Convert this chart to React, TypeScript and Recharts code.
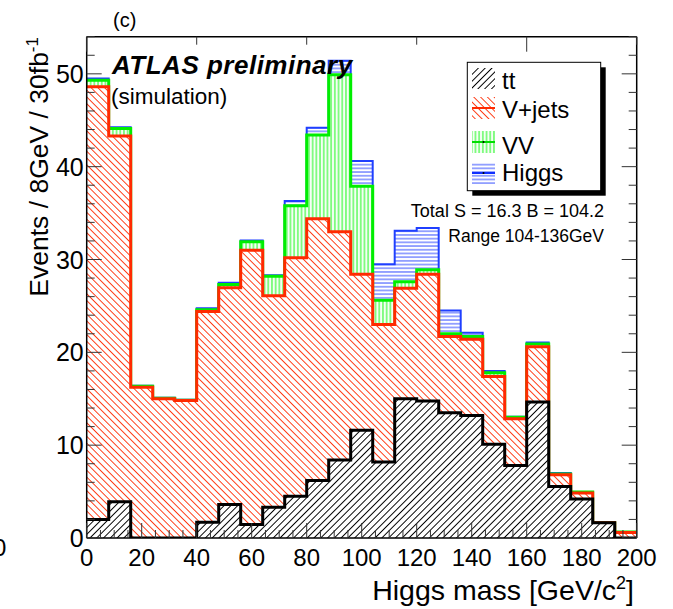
import React from 'react';
import { ComposedChart, Area, XAxis, YAxis } from 'recharts';

// ---- data (bins of 8 GeV, left edges) ----
const binEdges = [0, 8, 16, 24, 32, 40, 48, 56, 64, 72, 80, 88, 96, 104, 112, 120, 128, 136, 144, 152, 160, 168, 176, 184, 192];
const ttEvents = [2.0, 3.9, 0, 0, 0, 1.7, 3.6, 1.45, 3.3, 4.5, 6.2, 8.4, 11.6, 8.2, 15.0, 14.75, 13.5, 13.2, 10.1, 7.8, 14.65, 5.55, 4.2, 1.65, 0];
const vjetsEvents = [46.6, 39.4, 16.25, 15.0, 14.8, 22.7, 23.35, 29.55, 22.8, 25.7, 28.2, 24.6, 16.8, 14.8, 11.9, 13.65, 8.2, 8.2, 7.3, 5.05, 5.95, 1.25, 0.65, 0, 0.6];
const vvEvents = [0.7, 0.8, 0.1, 0.05, 0.05, 0.2, 0.35, 0.9, 2.1, 5.6, 9.0, 16.9, 9.5, 2.6, 0.7, 0.5, 0.3, 0.3, 0.4, 0.15, 0.3, 0.1, 0.1, 0, 0.05];
const higgsEvents = [0.2, 0.15, 0.05, 0.05, 0.05, 0.15, 0.2, 0.15, 0.1, 0.5, 0.8, 1.5, 2.7, 3.9, 5.5, 4.5, 2.5, 0.4, 0.2, 0.05, 0.15, 0.1, 0, 0, 0];
const xMax = 200;

const xTicks = [0, 5, 10, 15, 20, 25, 30, 35, 40, 45, 50, 55, 60, 65, 70, 75, 80, 85, 90, 95, 100, 105, 110, 115, 120, 125, 130, 135, 140, 145, 150, 155, 160, 165, 170, 175, 180, 185, 190, 195, 200];
const xMajorLabels = [0, 20, 40, 60, 80, 100, 120, 140, 160, 180, 200];
const yTicks = [0, 2, 4, 6, 8, 10, 12, 14, 16, 18, 20, 22, 24, 26, 28, 30, 32, 34, 36, 38, 40, 42, 44, 46, 48, 50, 52, 54];
const yMajorLabels = [0, 10, 20, 30, 40, 50];

const legendItems = ['tt', 'V+jets', 'VV', 'Higgs'];

// cumulative table for the stacked histogram
const rows = binEdges.map((x, i) => {
  const tt = ttEvents[i];
  const vj = tt + vjetsEvents[i];
  const vv = vj + vvEvents[i];
  const h = vv + higgsEvents[i];
  return { x, tt, vj, vv, h };
});
rows.push({ ...rows[rows.length - 1], x: xMax });

const FONT = '"Liberation Sans", Arial, Helvetica, sans-serif';
const TICK_COLOR = '#333';

const BottomTick = (props: any) => {
  const { x, y, payload } = props;
  const v = payload.value;
  const major = xMajorLabels.includes(v);
  return (
    <g>
      <line x1={x} y1={y} x2={x} y2={y - (major ? 15 : 8)} stroke={TICK_COLOR} strokeWidth={1} />
      {major && (
        <text x={x} y={y + 28} textAnchor="middle" fontSize={24} fontFamily={FONT} fill="#000">
          {v}
        </text>
      )}
    </g>
  );
};

const TopTick = (props: any) => {
  const { x, y, payload } = props;
  const major = xMajorLabels.includes(payload.value);
  return <line x1={x} y1={y} x2={x} y2={y + (major ? 15 : 8)} stroke={TICK_COLOR} strokeWidth={1} />;
};

const LeftTick = (props: any) => {
  const { x, y, payload } = props;
  const v = payload.value;
  const major = yMajorLabels.includes(v);
  return (
    <g>
      <line x1={x} y1={y} x2={x + (major ? 15 : 8)} y2={y} stroke={TICK_COLOR} strokeWidth={1} />
      {major && (
        <text x={x - 3} y={y + 9} textAnchor="end" fontSize={25} fontFamily={FONT} fill="#000">
          {v}
        </text>
      )}
    </g>
  );
};

const RightTick = (props: any) => {
  const { x, y, payload } = props;
  const major = yMajorLabels.includes(payload.value);
  return <line x1={x} y1={y} x2={x - (major ? 15 : 8)} y2={y} stroke={TICK_COLOR} strokeWidth={1} />;
};

const Patterns = () => (
  <svg width={0} height={0} style={{ position: 'absolute' }}>
    <defs>
      <pattern id="ttHatch" patternUnits="userSpaceOnUse" width={4.8} height={4.8} patternTransform="rotate(45)">
        <rect width={4.8} height={4.8} fill="#fff" />
        <line x1={2.4} y1={-1} x2={2.4} y2={6} stroke="#000" strokeWidth={1} />
      </pattern>
      <pattern id="vjHatch" patternUnits="userSpaceOnUse" width={4.8} height={4.8} patternTransform="rotate(-45)">
        <rect width={4.8} height={4.8} fill="#fff" />
        <line x1={2.4} y1={-1} x2={2.4} y2={6} stroke="#ff3a14" strokeWidth={1} />
      </pattern>
      <pattern id="vvHatch" patternUnits="userSpaceOnUse" width={3.7} height={3.7}>
        <rect width={3.7} height={3.7} fill="#fff" />
        <line x1={1.85} y1={-1} x2={1.85} y2={5} stroke="#80fb80" strokeWidth={2} />
      </pattern>
      <pattern id="higgsHatch" patternUnits="userSpaceOnUse" width={3.7} height={3.7}>
        <rect width={3.7} height={3.7} fill="#fff" />
        <line x1={-1} y1={1.85} x2={5} y2={1.85} stroke="#8090ff" strokeWidth={1.6} />
      </pattern>
    </defs>
  </svg>
);

const Overlay = () => (
  <svg width={673} height={609} style={{ position: 'absolute', left: 0, top: 0, pointerEvents: 'none' }} fontFamily={FONT}>
    <text x={-7} y={556} fontSize={24} fill="#000">0</text>
    <text x={113} y={27} fontSize={20} fill="#000">(c)</text>
    <text x={112} y={74} fontSize={26} fontWeight="bold" fontStyle="italic" letterSpacing={0.5} fill="#000">ATLAS preliminary</text>
    <text x={111} y={104} fontSize={22.5} fill="#000">(simulation)</text>

    {/* y title */}
    <text transform="rotate(-90)" x={-37} y={48} textAnchor="end" fontSize={26.5} fill="#000">
      Events / 8GeV / 30fb<tspan dy={-10} fontSize={17}>-1</tspan>
    </text>
    {/* x title */}
    <text x={634} y={600} textAnchor="end" fontSize={28.5} fill="#000">
      Higgs mass [GeV/c<tspan dy={-11} fontSize={18}>2</tspan><tspan dy={11} fontSize={28.5}>]</tspan>
    </text>

    {/* legend */}
    <rect x={472.3} y={67.3} width={133.4} height={128.4} fill="#000" />
    <rect x={467.3} y={62.3} width={133.4} height={128.4} fill="#fff" stroke="#000" strokeWidth={1} />
    <rect x={472} y={68} width={23} height={21} fill="url(#ttHatch)" />
    <text x={502} y={89} fontSize={24} fill="#000">{legendItems[0]}</text>

    <rect x={472} y={97} width={23} height={22} fill="url(#vjHatch)" />
    <line x1={472} y1={108} x2={495} y2={108} stroke="#ff2a00" strokeWidth={2} />
    <text x={502} y={117.5} fontSize={24} fill="#000">{legendItems[1]}</text>

    <rect x={472} y={131} width={23} height={22} fill="url(#vvHatch)" />
    <line x1={472} y1={142} x2={495} y2={142} stroke="#00dd00" strokeWidth={2} />
    <circle cx={483.5} cy={142} r={1} fill="#000" />
    <text x={502} y={154} fontSize={24} fill="#000">{legendItems[2]}</text>

    <rect x={472} y={162} width={23} height={22} fill="url(#higgsHatch)" />
    <line x1={472} y1={173} x2={495} y2={173} stroke="#1030ff" strokeWidth={2} />
    <circle cx={483.5} cy={173} r={1} fill="#000" />
    <text x={502} y={181} fontSize={24} fill="#000">{legendItems[3]}</text>

    <text x={604} y={217} textAnchor="end" fontSize={18} fill="#000">Total S = 16.3 B = 104.2</text>
    <text x={604} y={242} textAnchor="end" fontSize={17.5} fill="#000">Range 104-136GeV</text>
  </svg>
);

export default function App() {
  return (
    <div style={{ position: 'absolute', left: 0, top: 0, width: 673, height: 609, background: '#fff' }}>
      <Patterns />
      <ComposedChart
        width={673}
        height={609}
        data={rows}
        margin={{ top: 35.7, right: 35.3, bottom: 70, left: 85.7 }}
      >
        <Area type="stepAfter" dataKey="h" stroke="#1f3fff" strokeWidth={2} fill="url(#higgsHatch)" fillOpacity={1} isAnimationActive={false} dot={false} activeDot={false} />
        <Area type="stepAfter" dataKey="vv" stroke="#00ee00" strokeWidth={3} fill="url(#vvHatch)" fillOpacity={1} isAnimationActive={false} dot={false} activeDot={false} />
        <Area type="stepAfter" dataKey="vj" stroke="#ff2a00" strokeWidth={3} fill="url(#vjHatch)" fillOpacity={1} isAnimationActive={false} dot={false} activeDot={false} />
        <Area type="stepAfter" dataKey="tt" stroke="#000" strokeWidth={3} fill="url(#ttHatch)" fillOpacity={1} isAnimationActive={false} dot={false} activeDot={false} />
        <XAxis
          type="number"
          dataKey="x"
          domain={[0, xMax]}
          ticks={xTicks}
          interval={0}
          height={1}
          tickSize={0}
          tickMargin={0}
          tickLine={false}
          tick={<BottomTick />}
          axisLine={{ stroke: '#000', strokeWidth: 1.5 }}
          allowDataOverflow
        />
        <XAxis
          xAxisId="top"
          orientation="top"
          type="number"
          domain={[0, xMax]}
          ticks={xTicks}
          interval={0}
          height={1}
          tickSize={0}
          tickMargin={0}
          tickLine={false}
          tick={<TopTick />}
          axisLine={{ stroke: '#000', strokeWidth: 1.5 }}
          allowDataOverflow
        />
        <YAxis
          type="number"
          domain={[0, 54]}
          ticks={yTicks}
          interval={0}
          width={1}
          tickSize={0}
          tickMargin={0}
          tickLine={false}
          tick={<LeftTick />}
          axisLine={{ stroke: '#000', strokeWidth: 1.5 }}
          allowDataOverflow
        />
        <YAxis
          yAxisId="right"
          orientation="right"
          type="number"
          domain={[0, 54]}
          ticks={yTicks}
          interval={0}
          width={1}
          tickSize={0}
          tickMargin={0}
          tickLine={false}
          tick={<RightTick />}
          axisLine={{ stroke: '#000', strokeWidth: 1.5 }}
          allowDataOverflow
        />
      </ComposedChart>
      <Overlay />
    </div>
  );
}
